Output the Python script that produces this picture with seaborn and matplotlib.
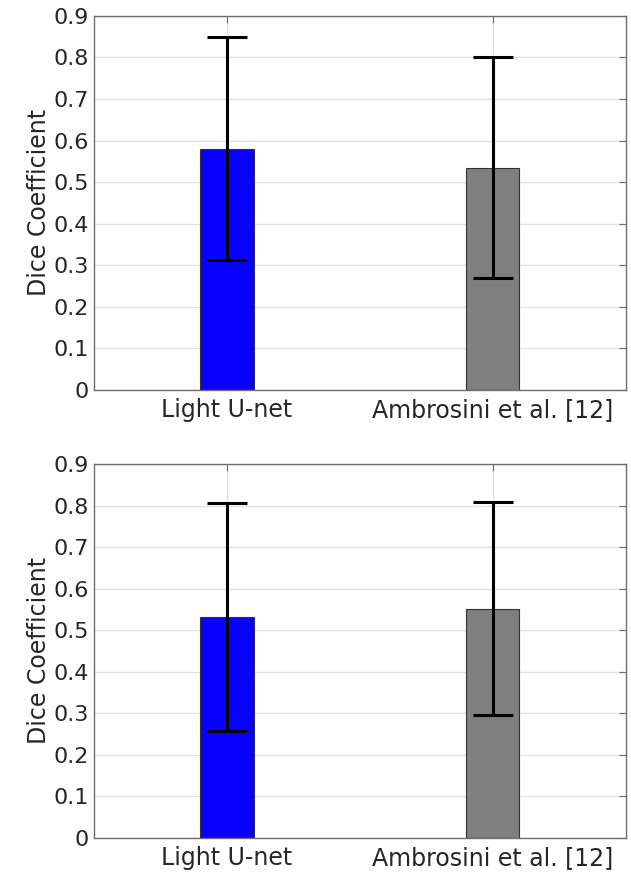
import matplotlib
matplotlib.use("Agg")
import matplotlib.pyplot as plt
import seaborn as sns
import pandas as pd
import numpy as np

methods = ["Light U-net", "Ambrosini et al. [12]"]
bar_colors = ["#0800FF", "#7f7f7f"]

top_means = [0.580, 0.534]
top_errs = [0.269, 0.266]

bottom_means = [0.532, 0.552]
bottom_errs = [0.274, 0.257]

yticks = [0, 0.1, 0.2, 0.3, 0.4, 0.5, 0.6, 0.7, 0.8, 0.9]
ytick_labels = ["0", "0.1", "0.2", "0.3", "0.4", "0.5", "0.6", "0.7", "0.8", "0.9"]

sns.set_style("white")
plt.rcParams["font.family"] = ["DejaVu Sans"]

fig = plt.figure(figsize=(6.31, 8.74), dpi=100)
ax_top = fig.add_axes([0.149, 0.5543, 0.9916 - 0.149, 0.9817 - 0.5543])
ax_bot = fig.add_axes([0.149, 0.0415, 0.9916 - 0.149, 0.4691 - 0.0415])

text_color = "#262626"
axis_color = "#6e6e6e"

for ax, means, errs in [(ax_top, top_means, top_errs), (ax_bot, bottom_means, bottom_errs)]:
    df = pd.DataFrame({"method": methods, "dice": means})
    sns.barplot(data=df, x="method", y="dice", hue="method", palette=bar_colors,
                order=methods, hue_order=methods, width=0.2, errorbar=None,
                saturation=1, edgecolor="#333333", linewidth=0.8, legend=False,
                ax=ax, zorder=2)
    ax.errorbar(x=np.arange(len(methods)), y=means, yerr=errs, fmt="none",
                ecolor="black", elinewidth=2.2, capsize=14.5, capthick=2.2, zorder=3)
    ax.set_xlim(-0.5, 1.5)
    ax.set_ylim(0, 0.9)
    ax.set_yticks(yticks)
    ax.set_yticklabels(ytick_labels)
    ax.set_xlabel("")
    ax.set_ylabel("Dice Coefficient", fontsize=17, color=text_color, labelpad=2)
    ax.grid(True, color="#e3e3e3", linewidth=1.0, zorder=0)
    ax.set_axisbelow(True)
    ax.tick_params(axis="both", direction="in", length=5, width=0.8, colors=axis_color,
                   labelcolor=text_color, labelsize=16, top=True, right=True)
    ax.tick_params(axis="x", labelsize=17, pad=6)
    for s in ax.spines.values():
        s.set_visible(True)
        s.set_color(axis_color)
        s.set_linewidth(1.0)

fig.savefig("out.png", dpi=100)
